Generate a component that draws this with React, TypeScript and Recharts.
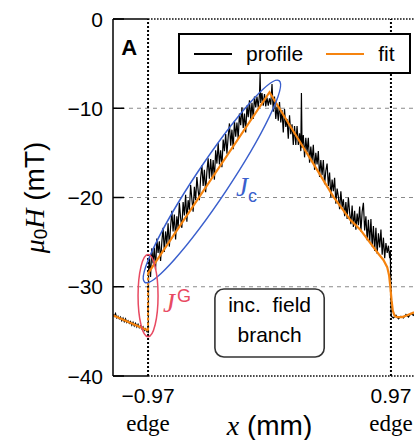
import React from "react";
import {
  LineChart,
  Line,
  XAxis,
  YAxis,
  ReferenceLine,
  ReferenceDot,
  ReferenceArea,
  Legend,
} from "recharts";

// measured field profile, x in mm, mu0H in mT
const profileOuterLeft: [number, number][] = [
  [-1.25, -33.1], [-1.24, -33.3], [-1.23, -33.0], [-1.22, -33.5], [-1.21, -33.3],
  [-1.2, -33.6], [-1.19, -33.4], [-1.18, -33.8], [-1.17, -33.5], [-1.16, -33.9],
  [-1.15, -33.6], [-1.14, -34.0], [-1.13, -33.8], [-1.12, -34.1], [-1.11, -33.9],
  [-1.1, -34.3], [-1.09, -34.0], [-1.08, -34.4], [-1.07, -34.1], [-1.06, -34.5],
  [-1.05, -34.2], [-1.04, -34.6], [-1.03, -34.4], [-1.02, -34.7], [-1.01, -34.5],
  [-1.0, -34.9], [-0.99, -34.7], [-0.98, -35.0], [-0.975, -34.9], [-0.968, -35.2],
];

const profileRise: [number, number][] = [
  [-0.966, -28.2], [-0.96, -26.8], [-0.95, -28.9], [-0.94, -25.7], [-0.93, -27.4],
  [-0.92, -25.6], [-0.91, -28.1], [-0.9, -24.6], [-0.89, -26.2], [-0.88, -24.9],
  [-0.87, -27.1], [-0.86, -25.0], [-0.85, -23.4], [-0.84, -26.1], [-0.83, -23.8],
  [-0.82, -25.2], [-0.81, -22.9], [-0.8, -25.5], [-0.79, -23.3], [-0.78, -21.5],
  [-0.77, -23.8], [-0.76, -21.9], [-0.75, -24.7], [-0.74, -22.1], [-0.73, -23.4],
  [-0.72, -20.6], [-0.71, -22.3], [-0.7, -23.4], [-0.69, -20.5], [-0.68, -22.0],
  [-0.67, -19.7], [-0.66, -22.7], [-0.65, -20.3], [-0.64, -21.4], [-0.63, -18.6],
  [-0.62, -20.2], [-0.61, -21.6], [-0.6, -18.8], [-0.59, -20.3], [-0.58, -17.7],
  [-0.57, -19.2], [-0.56, -20.3], [-0.55, -17.8], [-0.54, -16.4], [-0.53, -18.7],
  [-0.52, -16.9], [-0.51, -19.4], [-0.5, -17.1], [-0.49, -15.6], [-0.48, -17.9],
  [-0.47, -15.7], [-0.46, -17.7], [-0.45, -15.8], [-0.44, -18.0], [-0.43, -14.7],
  [-0.42, -16.2], [-0.41, -13.9], [-0.4, -16.3], [-0.39, -14.7], [-0.38, -16.6],
  [-0.37, -13.5], [-0.36, -14.8], [-0.35, -12.9], [-0.34, -15.1], [-0.33, -13.2],
  [-0.32, -11.7], [-0.31, -14.2], [-0.3, -12.4], [-0.29, -14.6], [-0.28, -11.4],
  [-0.27, -13.2], [-0.26, -11.6], [-0.25, -13.4], [-0.24, -10.6], [-0.23, -11.9],
  [-0.22, -9.9], [-0.21, -12.2], [-0.2, -10.6], [-0.19, -12.7], [-0.18, -9.7],
  [-0.17, -11.0], [-0.16, -9.1], [-0.15, -11.2], [-0.14, -9.4], [-0.13, -11.2],
  [-0.12, -8.7], [-0.11, -9.9], [-0.1, -8.7], [-0.09, -9.9], [-0.08, -8.5],
  [-0.075, -6.1], [-0.07, -9.4], [-0.06, -8.3], [-0.05, -9.7], [-0.04, -8.4],
  [-0.03, -9.8], [-0.02, -8.8], [-0.01, -9.7], [0.0, -8.9],
];

const profileFall: [number, number][] = [
  [0.01, -9.6], [0.02, -7.3], [0.03, -10.4], [0.04, -8.7], [0.05, -11.2],
  [0.06, -9.8], [0.07, -11.4], [0.08, -9.3], [0.09, -11.6], [0.1, -10.2],
  [0.11, -12.7], [0.12, -10.1], [0.13, -12.1], [0.14, -11.2], [0.15, -13.4],
  [0.16, -10.8], [0.17, -12.9], [0.18, -11.8], [0.19, -14.1], [0.2, -12.0],
  [0.21, -14.1], [0.22, -12.0], [0.23, -14.1], [0.24, -12.8], [0.25, -14.8],
  [0.255, -8.3], [0.26, -14.4], [0.27, -13.0], [0.28, -15.5], [0.29, -13.3],
  [0.3, -14.9], [0.31, -13.3], [0.32, -16.1], [0.33, -14.3], [0.34, -15.9],
  [0.35, -14.1], [0.36, -16.9], [0.37, -15.0], [0.38, -16.3], [0.39, -14.8],
  [0.4, -17.7], [0.41, -15.8], [0.42, -17.5], [0.43, -15.8], [0.44, -18.5],
  [0.45, -17.0], [0.46, -16.2], [0.47, -18.7], [0.48, -17.2], [0.49, -20.0],
  [0.5, -18.0], [0.51, -19.3], [0.52, -17.8], [0.53, -20.7], [0.54, -19.0],
  [0.55, -19.9], [0.56, -21.3], [0.57, -19.3], [0.58, -21.1], [0.59, -20.2],
  [0.6, -22.1], [0.61, -20.5], [0.62, -22.4], [0.63, -20.0], [0.64, -21.7],
  [0.65, -23.0], [0.66, -20.9], [0.67, -23.3], [0.68, -21.5], [0.69, -23.6],
  [0.7, -21.8], [0.71, -23.1], [0.72, -21.0], [0.73, -23.8], [0.74, -21.6],
  [0.75, -20.6], [0.76, -23.7], [0.77, -22.1], [0.78, -24.8], [0.79, -22.5],
  [0.8, -25.1], [0.81, -22.4], [0.82, -25.5], [0.83, -23.2], [0.84, -26.0],
  [0.85, -23.4], [0.86, -26.3], [0.87, -24.0], [0.88, -25.6], [0.89, -23.6],
  [0.9, -26.4], [0.91, -24.5], [0.92, -26.8], [0.93, -25.1], [0.94, -26.2],
  [0.95, -25.4], [0.96, -26.8], [0.965, -26.0],
];

const profileOuterRight: [number, number][] = [
  [0.972, -33.3], [0.99, -33.5], [1.01, -33.2], [1.03, -33.6], [1.05, -33.3],
  [1.07, -33.5], [1.09, -33.1], [1.11, -33.4], [1.13, -33.0], [1.15, -33.2],
  [1.17, -32.8], [1.19, -33.0], [1.21, -32.7], [1.23, -32.9], [1.25, -32.6],
];

// Bean-model fit
const fitOuterLeft: [number, number][] = [[-1.25, -33.2], [-0.97, -34.9]];
const fitEdgeJump: [number, number][] = [[-0.97, -34.9], [-0.97, -28.5]];
const fitMain: [number, number][] = [
  [-0.97, -28.5], [0.0, -8.2], [0.17, -12.1], [0.35, -16.2], [0.51, -19.9],
  [0.645, -22.5], [0.725, -23.6], [0.8, -25.0], [0.87, -26.3], [0.91, -27.0],
  [0.94, -27.8], [0.955, -28.7], [0.965, -30.0], [0.975, -31.5], [0.985, -32.7],
  [1.0, -33.3], [1.02, -33.4], [1.06, -33.4], [1.1, -33.2], [1.15, -32.9],
  [1.25, -32.5],
];

const legendNames = ["profile", "fit"];
const xDomain = [-1.25, 1.25];
const yDomain = [-40, 0];
const xTicks = [-0.97, 0.97];
const yTicks = [0, -10, -20, -30, -40];
const gridLevels = [-10, -20, -30];
const edgeLabel = "edge";

// annotation bands (major-axis end points)
const jcBand = [{ x: -0.996, y: -29.5 }, { x: 0.076, y: -6.9 }];
const jgBand = [{ x: -0.97, y: -26.4 }, { x: -0.97, y: -35.6 }];
const noteBox = { x1: -0.436, x2: 0.437, y1: -30.25, y2: -37.87 };

const toPts = (arr: [number, number][]) => arr.map(([x, h]) => ({ x, h }));
const profile = toPts([
  ...profileOuterLeft,
  ...profileRise,
  ...profileFall,
  ...profileOuterRight,
]);

const BLUE = "#3a5fcd";
const RED = "#e84a62";
const ORANGE = "#f5830f";
const SANS = "Liberation Sans, Arial, sans-serif";
const SERIF = "Liberation Serif, Times New Roman, serif";

const fmt = (v: number) => (v === 0 ? "0" : (v < 0 ? "\u2212" : "") + Math.abs(v));

const YTick = (p: any) => {
  const { x, y, payload } = p;
  return (
    <g>
      <line x1={x} x2={x + 11} y1={y} y2={y} stroke="#000" strokeWidth={1.5} />
      <text x={x - 10} y={y + 7.5} textAnchor="end" fontSize={21} fontFamily={SANS} fill="#000">
        {fmt(payload.value)}
      </text>
    </g>
  );
};

const XTick = (p: any) => {
  const { x, y, payload } = p;
  return (
    <g>
      <text x={x} y={y + 27} textAnchor="middle" fontSize={21} fontFamily={SANS} fill="#000">
        {fmt(payload.value)}
      </text>
      <text x={x} y={y + 55} textAnchor="middle" fontSize={23} fontFamily={SERIF} fill="#000">
        {edgeLabel}
      </text>
    </g>
  );
};

const XLabel = (p: any) => {
  const { viewBox } = p;
  const cx = viewBox.x + viewBox.width / 2;
  return (
    <text x={cx} y={viewBox.y + 59} textAnchor="middle" fontSize={28} fontFamily={SANS} fill="#000">
      <tspan fontFamily={SERIF} fontStyle="italic">x</tspan>
      <tspan> (mm)</tspan>
    </text>
  );
};

const YLabel = (p: any) => {
  const { viewBox } = p;
  const cx = viewBox.x - 19;
  const cy = viewBox.y + viewBox.height / 2;
  return (
    <text
      x={cx}
      y={cy}
      textAnchor="middle"
      dominantBaseline="central"
      transform={`rotate(-90 ${cx} ${cy})`}
      fontSize={28}
      fontFamily={SANS}
      fill="#000"
    >
      <tspan fontFamily={SERIF} fontStyle="italic">μ</tspan>
      <tspan fontSize={19} dy={6}>0</tspan>
      <tspan fontFamily={SERIF} fontStyle="italic" dy={-6}>H</tspan>
      <tspan> (mT)</tspan>
    </text>
  );
};

const ellipseShape = (ry: number, color: string) => (p: any) => {
  const cx = (p.x1 + p.x2) / 2;
  const cy = (p.y1 + p.y2) / 2;
  const rx = Math.hypot(p.x2 - p.x1, p.y2 - p.y1) / 2;
  const ang = (Math.atan2(p.y2 - p.y1, p.x2 - p.x1) * 180) / Math.PI;
  return (
    <ellipse
      cx={cx}
      cy={cy}
      rx={rx}
      ry={ry}
      transform={`rotate(${ang} ${cx} ${cy})`}
      fill="none"
      stroke={color}
      strokeWidth={1.5}
    />
  );
};

const PanelLetter = (p: any) => (
  <text x={p.cx} y={p.cy} textAnchor="middle" fontSize={22} fontWeight="bold" fontFamily={SANS} fill="#000">
    A
  </text>
);

const JcLabel = (p: any) => (
  <text x={p.cx} y={p.cy} fontSize={27} fill={BLUE}>
    <tspan fontFamily={SERIF} fontStyle="italic">J</tspan>
    <tspan fontFamily={SANS} fontSize={18} dy={6}>c</tspan>
  </text>
);

const JgLabel = (p: any) => (
  <text x={p.cx} y={p.cy} fontSize={27} fill={RED}>
    <tspan fontFamily={SERIF} fontStyle="italic">J</tspan>
    <tspan fontFamily={SANS} fontSize={18} dx={2} dy={-10}>G</tspan>
  </text>
);

const NoteShape = (p: any) => {
  const cx = p.x + p.width / 2;
  return (
    <g>
      <rect x={p.x} y={p.y} width={p.width} height={p.height} rx={9} fill="#fff" stroke="#333" strokeWidth={1.6} />
      <text x={cx} y={p.y + 23} textAnchor="middle" fontSize={21} fontFamily={SANS} fill="#000" style={{ whiteSpace: "pre" }}>
        inc.  field
      </text>
      <text x={cx} y={p.y + 53} textAnchor="middle" fontSize={21} fontFamily={SANS} fill="#000">
        branch
      </text>
    </g>
  );
};

const LegendBox = (p: any) => {
  const items = legendNames
    .map((n) => (p.payload || []).find((e: any) => e.value === n))
    .filter(Boolean);
  return (
    <div
      style={{
        width: 233,
        height: 41,
        boxSizing: "border-box",
        border: "2.5px solid #000",
        background: "#fff",
        display: "flex",
        alignItems: "center",
        fontFamily: SANS,
        fontSize: 21,
        color: "#000",
      }}
    >
      {items.map((e: any, i: number) => (
        <span key={e.value} style={{ display: "flex", alignItems: "center", marginLeft: i === 0 ? 14 : 23 }}>
          <svg width={38} height={4} style={{ display: "block" }}>
            <line x1={0} x2={38} y1={2} y2={2} stroke={e.color} strokeWidth={2.2} />
          </svg>
          <span style={{ marginLeft: 14, lineHeight: "21px" }}>{e.value}</span>
        </span>
      ))}
    </div>
  );
};

export default function App() {
  return (
    <div style={{ position: "fixed", left: 0, top: 0, width: 414, height: 440, overflow: "hidden", background: "#fff" }}>
      <LineChart width={440} height={440} margin={{ top: 19, right: 14, bottom: 4, left: 53 }}>
        <XAxis
          type="number"
          dataKey="x"
          domain={xDomain}
          ticks={xTicks}
          allowDataOverflow
          axisLine={false}
          tickLine={false}
          tickSize={0}
          tickMargin={0}
          height={60}
          tick={<XTick />}
          label={<XLabel />}
        />
        <YAxis
          type="number"
          domain={yDomain}
          ticks={yTicks}
          allowDataOverflow
          width={60}
          axisLine={{ stroke: "#000", strokeWidth: 1.5 }}
          tickLine={false}
          tickSize={0}
          tickMargin={0}
          tick={<YTick />}
          label={<YLabel />}
        />

        {gridLevels.map((v) => (
          <ReferenceLine key={v} y={v} stroke="#8a8a8a" strokeDasharray="4 4" strokeWidth={1} />
        ))}
        <ReferenceLine segment={[{ x: -1.25, y: 0 }, { x: -0.97, y: 0 }]} stroke="#000" strokeWidth={1.5} />
        <ReferenceLine segment={[{ x: -0.97, y: 0 }, { x: 1.25, y: 0 }]} stroke="#000" strokeWidth={1.3} strokeDasharray="1.5 1.5" />
        <ReferenceLine segment={[{ x: -1.25, y: -40 }, { x: -0.97, y: -40 }]} stroke="#000" strokeWidth={1.5} />
        <ReferenceLine segment={[{ x: -0.97, y: -40 }, { x: 1.25, y: -40 }]} stroke="#000" strokeWidth={1.3} strokeDasharray="1.5 1.5" />
        {xTicks.map((v) => (
          <ReferenceLine key={v} x={v} stroke="#000" strokeWidth={2} strokeDasharray="2 2" />
        ))}

        <Line
          data={profile}
          dataKey="h"
          name="profile"
          stroke="#000"
          strokeWidth={1.2}
          dot={false}
          type="linear"
          isAnimationActive={false}
        />
        <Line
          data={toPts(fitOuterLeft)}
          dataKey="h"
          name="fit-left"
          legendType="none"
          stroke={ORANGE}
          strokeWidth={2.2}
          dot={false}
          type="linear"
          isAnimationActive={false}
        />
        <Line
          data={toPts(fitEdgeJump)}
          dataKey="h"
          name="fit-jump"
          legendType="none"
          stroke={ORANGE}
          strokeWidth={2}
          strokeDasharray="3 2"
          dot={false}
          type="linear"
          isAnimationActive={false}
        />
        <Line
          data={toPts(fitMain)}
          dataKey="h"
          name="fit"
          stroke={ORANGE}
          strokeWidth={2.2}
          dot={false}
          type="linear"
          isAnimationActive={false}
        />

        <ReferenceLine segment={jcBand} ifOverflow="visible" shape={ellipseShape(17, BLUE)} />
        <ReferenceLine segment={jgBand} ifOverflow="visible" shape={ellipseShape(10, RED)} />
        <ReferenceDot x={-0.268} y={-19.83} r={0} shape={JcLabel} />
        <ReferenceDot x={-0.851} y={-32.83} r={0} shape={JgLabel} />
        <ReferenceDot x={-1.12} y={-4.03} r={0} shape={PanelLetter} />
        <ReferenceArea {...noteBox} shape={NoteShape} />

        <Legend
          layout="horizontal"
          verticalAlign="middle"
          align="center"
          content={<LegendBox />}
          wrapperStyle={{ position: "absolute", left: 178, top: 33, width: 233, height: 41 }}
        />
      </LineChart>
    </div>
  );
}
